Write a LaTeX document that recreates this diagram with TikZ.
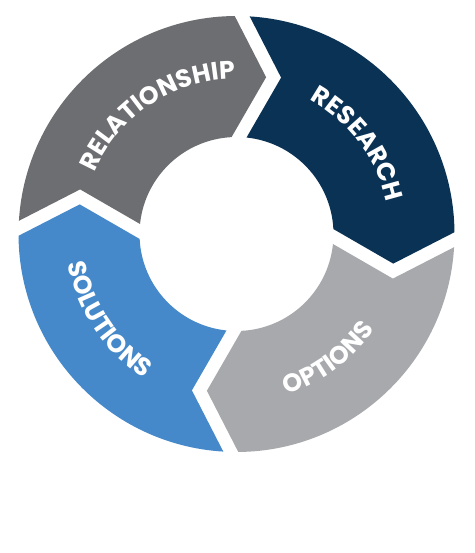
\documentclass[tikz,border=0pt]{standalone}
\usepackage{fontspec}
\usetikzlibrary{decorations.text}
\newfontfamily\segfont{Poppins}[LetterSpace=6]
\definecolor{relgray}{RGB}{109,110,113}
\definecolor{resnavy}{RGB}{10,50,84}
\definecolor{optgray}{RGB}{167,169,172}
\definecolor{solblue}{RGB}{69,137,202}
\tikzset{
  outlabel/.style={decoration={text along path, text align=center, text color=white,
    text={|\segfont\bfseries\fontsize{21.5}{21.5}\selectfont|#1}}, decorate},
}

\begin{document}
\begin{tikzpicture}[x=0.3mm, y=0.3mm]
\useasboundingbox (-236.5,-319) rectangle (237.5,234);
\fill[white] (-236.5,-319) rectangle (237.5,234);
% four arrow segments of the ring
\fill[relgray, rotate=-1.5] (91.97:218) -- (25.5,157.5) -- (94.43:97) arc[start angle=94.43, end angle=175.57, radius=97] -- (-157.5,40.5) -- (178.03:218) arc[start angle=178.03, end angle=91.97, radius=218] -- cycle;
\fill[resnavy, rotate=-91.5] (91.97:218) -- (25.5,157.5) -- (94.43:97) arc[start angle=94.43, end angle=175.57, radius=97] -- (-157.5,40.5) -- (178.03:218) arc[start angle=178.03, end angle=91.97, radius=218] -- cycle;
\fill[optgray, rotate=-181.5] (91.97:218) -- (25.5,157.5) -- (94.43:97) arc[start angle=94.43, end angle=175.57, radius=97] -- (-157.5,40.5) -- (178.03:218) arc[start angle=178.03, end angle=91.97, radius=218] -- cycle;
\fill[solblue, rotate=-271.5] (91.97:218) -- (25.5,157.5) -- (94.43:97) arc[start angle=94.43, end angle=175.57, radius=97] -- (-157.5,40.5) -- (178.03:218) arc[start angle=178.03, end angle=91.97, radius=218] -- cycle;
% curved labels
\path[outlabel=RELATIONSHIP] (168.5:155) arc[start angle=168.5, end angle=78.5, radius=155];
\path[outlabel=RESEARCH] (81.7:153) arc[start angle=81.7, end angle=-8.3, radius=153];
\path[outlabel=SOLUTIONS] (168.7:171) arc[start angle=168.7, end angle=258.7, radius=171];
\path[outlabel=OPTIONS] (-98.6:168) arc[start angle=-98.6, end angle=-8.6, radius=168];
\end{tikzpicture}
\end{document}
